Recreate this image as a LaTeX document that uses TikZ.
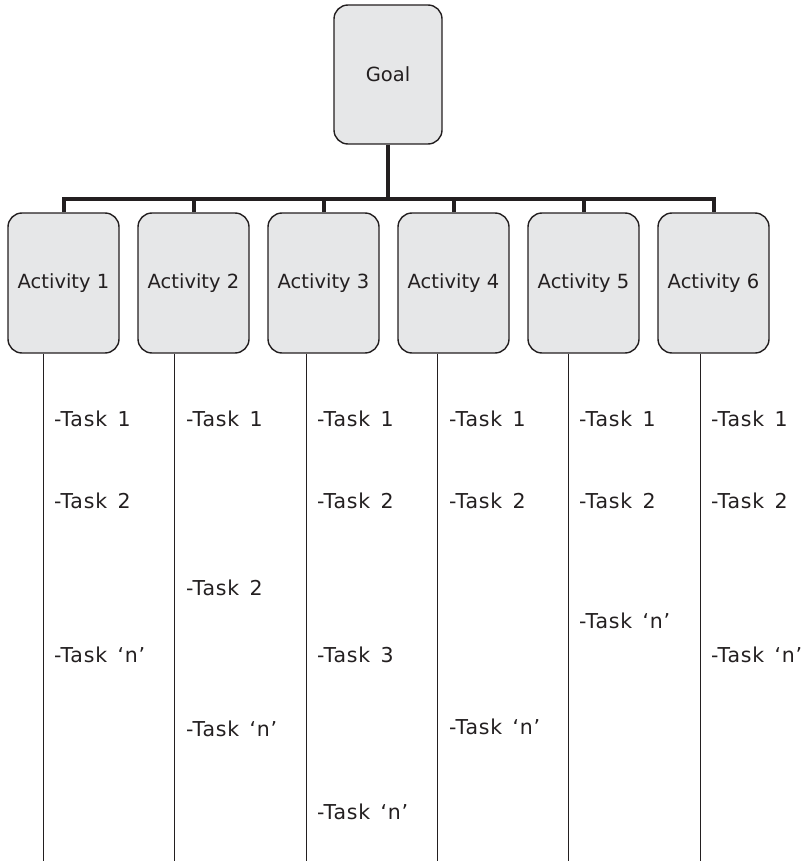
\documentclass[tikz,border=0pt]{standalone}
\usepackage{fontspec}
\setmainfont{DejaVu Sans}
\newfontfamily\taskfont[LetterSpace=4, WordSpace=1.4]{DejaVu Sans}
\begin{document}
\begin{tikzpicture}[x=1pt,y=-1pt,
  box/.style={draw=inkc, line width=1.4pt, fill=boxfill, rounded corners=14pt,
    inner sep=0pt, text=inkc, font=\fontsize{19.5}{22}\selectfont},
  goalbox/.style={box, minimum width=108pt, minimum height=139pt},
  actbox/.style={box, minimum width=111pt, minimum height=140pt},
  bus/.style={draw=inkc, line width=4pt},
  stem/.style={draw=inkc, line width=1pt},
  task/.style={anchor=base west, inner sep=0pt, text=inkc,
    font=\taskfont\fontsize{20.5}{23}\selectfont}]
\definecolor{inkc}{HTML}{231F20}
\definecolor{boxfill}{HTML}{E6E7E8}
\useasboundingbox (0,0) rectangle (802,861);

% goal and activities
\node[goalbox] (goal) at (388,74.5) {Goal};
\foreach \i/\cx in {1/63.5,2/193.5,3/323.5,4/453.5,5/583.5,6/713.5}
  \node[actbox] (a\i) at (\cx,283) {Activity \i};

% bus connecting the goal to every activity
\coordinate (bus) at (388,199);
\draw[bus] (goal.south) -- (bus);
\draw[bus] (a1.north) -- (a1.north |- bus) -- (a6.north |- bus) -- (a6.north);
\foreach \i in {2,3,4,5}
  \draw[bus] (a\i.north) -- (a\i.north |- bus);

% task stems below each activity
\foreach \i/\lx in {1/43,2/174.5,3/306,4/437,5/568.5,6/700.5} {
  \coordinate (s\i) at (\lx,861);
  \draw[stem] (a\i.south -| s\i) -- (s\i);
}

% tasks: column 1
\node[task] (t11) at (54,426) {-Task 1};
\node[task] (t12) at (54,508) {-Task 2};
\node[task] (t1n) at (54,662) {-Task ‘n’};
% column 2
\node[task] (t21) at (186,426) {-Task 1};
\node[task] (t22) at (186,595) {-Task 2};
\node[task] (t2n) at (186,736) {-Task ‘n’};
% column 3
\node[task] (t31) at (317,426) {-Task 1};
\node[task] (t32) at (317,508) {-Task 2};
\node[task] (t33) at (317,662) {-Task 3};
\node[task] (t3n) at (317,819) {-Task ‘n’};
% column 4
\node[task] (t41) at (449,426) {-Task 1};
\node[task] (t42) at (449,508) {-Task 2};
\node[task] (t4n) at (449,734) {-Task ‘n’};
% column 5
\node[task] (t51) at (579,426) {-Task 1};
\node[task] (t52) at (579,508) {-Task 2};
\node[task] (t5n) at (579,628) {-Task ‘n’};
% column 6
\node[task] (t61) at (711,426) {-Task 1};
\node[task] (t62) at (711,508) {-Task 2};
\node[task] (t6n) at (711,662) {-Task ‘n’};
\end{tikzpicture}
\end{document}
